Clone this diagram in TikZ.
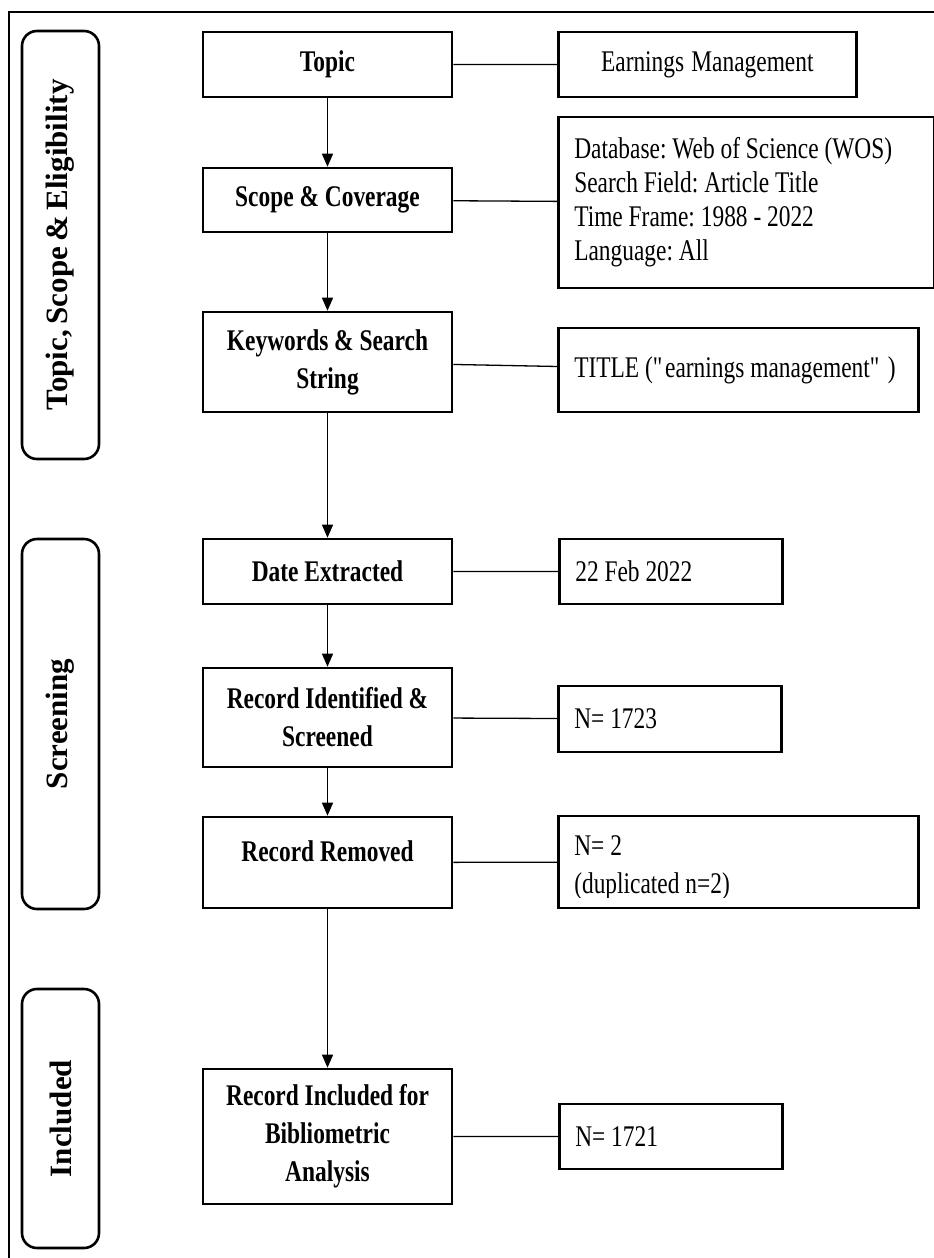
\documentclass[tikz,border=0pt]{standalone}
\usepackage{fontspec}
\setmainfont{Liberation Serif}[FakeStretch=0.78]
\newfontfamily\phasefont{Liberation Serif}[WordSpace=0.7]
\frenchspacing
\usetikzlibrary{arrows.meta}

\begin{document}
\begin{tikzpicture}[x=1pt, y=-1pt,
    stepbox/.style={draw, line width=2.6pt, minimum width=249pt, align=center, font=\fontsize{30}{38}\selectfont\bfseries},
    infobox/.style={draw, line width=2.6pt, anchor=west, align=left, inner xsep=16pt, font=\fontsize{30}{34}\selectfont,
        execute at begin node={\spaceskip=0pt\xspaceskip=0pt\relax}},
    phasebox/.style={draw, line width=2.6pt, rounded corners=15pt, minimum height=77pt, rotate=90, font=\phasefont\fontsize{31}{36}\selectfont\bfseries},
    link/.style={line width=1.3pt},
    flow/.style={line width=1.3pt, -{Triangle[width=11pt, length=13pt]}}]
                        \useasboundingbox (0,0) rectangle (934,1258);
                        \draw[line width=2.5pt] (934,12) -- (9,12) -- (9,1258);

                        \node[phasebox, minimum width=428pt] (phase1) at (60.5, 245) {Topic, Scope \& Eligibility};
                        \node[phasebox, minimum width=370pt] (phase2) at (60.5, 724) {Screening};
                        \node[phasebox, minimum width=259pt] (phase3) at (60.5, 1118.5) {Included};

                        \node[stepbox, minimum height=65pt] (topic) at (327.5, 64.5) {Topic};
                        \node[stepbox, minimum height=64pt] (scope) at (327.5, 200) {Scope \& Coverage};
                        \node[stepbox, minimum height=100pt] (keys) at (327.5, 362) {Keywords \& Search\\String};
                        \node[stepbox, minimum height=65pt] (date) at (327.5, 571.5) {Date Extracted};
                        \node[stepbox, minimum height=99pt] (ident) at (327.5, 717.5) {Record Identified \&\\Screened};
                        \node[stepbox, minimum height=91pt, text depth=22pt] (removed) at (327.5, 862.5) {Record Removed};
                        \node[stepbox, minimum height=135pt] (incl) at (327.5, 1136.5) {Record Included for\\Bibliometric\\Analysis};

                        \node[infobox, align=center, text width=266pt, minimum height=65pt] (topicinfo) at (557, 64.5) {Earnings Management};
                        \node[infobox, text width=344pt, minimum height=171pt] (scopeinfo) at (557, 202.5) {Database: Web of Science (WOS)\\Search Field: Article Title\\Time Frame: 1988 - 2022\\Language: All};
                        \node[infobox, text width=328pt, minimum height=84pt] (keysinfo) at (557, 370) {\mbox{TITLE (\textquotedbl earnings management\textquotedbl\ )}};
                        \node[infobox, text width=191pt, minimum height=65pt] (dateinfo) at (558, 571.5) {22 Feb 2022};
                        \node[infobox, text width=191pt, minimum height=66pt] (identinfo) at (557, 719) {N= 1723};
                        \node[infobox, text width=328pt, minimum height=92pt] (removedinfo) at (557, 862) {};
                        \begin{scope}
                            \clip (557, 816) rectangle (917, 897);
                            \node[infobox, draw=none, text width=328pt, font=\fontsize{30}{38}\selectfont] (removednote) at (557, 868) {N= 2\\(duplicated n=2)};
                        \end{scope}
                        \node[infobox, text width=191pt, minimum height=65pt] (inclinfo) at (558, 1136.5) {N= 1721};

                        \foreach \a/\b in {topic/scope, scope/keys, keys/date, date/ident, ident/removed, removed/incl}
                            \draw[flow] (\a) -- (\b);

                        \draw[link]
                        (topic) -- (topicinfo)
                        (scope) -- (scopeinfo)
                        (keys) -- (keysinfo)
                        (date) -- (dateinfo)
                        (ident) -- (identinfo)
                        (removed) -- (removedinfo)
                        (incl) -- (inclinfo);
                    \end{tikzpicture}
\end{document}
